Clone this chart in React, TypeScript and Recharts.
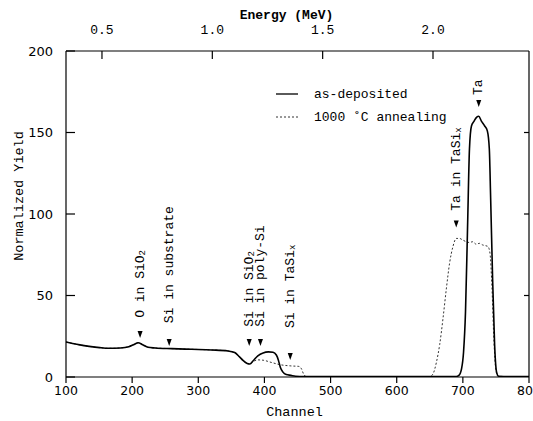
import React from 'react';
import { LineChart, Line, XAxis, YAxis, ReferenceDot } from 'recharts';

// As-deposited spectrum (solid)
const asDepChannel = [100, 110, 121, 135, 151, 165, 182, 195, 203, 209, 216, 224, 235, 260, 290, 320, 345, 355, 362, 368, 374, 378, 383, 390, 398, 406, 413, 418, 421, 424, 428, 433, 440, 447, 460, 550, 650, 690, 694, 698, 701, 704, 707, 710, 713, 717, 721, 724, 728, 733, 737, 740, 742, 745, 748, 751, 754, 770, 800];
const asDepYield = [21.5, 20.6, 19.7, 18.8, 18, 17.6, 17.8, 18.6, 20, 21, 19.8, 18.2, 17.8, 17.4, 17, 16.6, 16, 15, 12.5, 10, 8.3, 8, 10, 13, 14.8, 15.4, 15.2, 13.5, 10.5, 6, 3, 1.5, 1, 0.5, 0.2, 0.2, 0.2, 0.3, 1, 5, 15, 40, 90, 140, 154, 157, 159.5, 160, 157, 154, 151, 140, 110, 60, 20, 3, 0.5, 0.2, 0.2];

// 1000 °C annealing spectrum (dotted)
const annealChannel = [100, 110, 121, 135, 151, 165, 182, 195, 203, 209, 216, 224, 235, 260, 290, 320, 345, 355, 362, 368, 374, 378, 383, 390, 398, 410, 423, 440, 452, 456, 459, 463, 550, 640, 650, 655, 660, 665, 670, 675, 680, 685, 690, 695, 700, 705, 710, 715, 720, 725, 730, 735, 738, 741, 744, 747, 750, 753, 770, 800];
const annealYield = [21.5, 20.6, 19.7, 18.8, 18, 17.6, 17.8, 18.6, 20, 21, 19.8, 18.2, 17.8, 17.4, 17, 16.6, 16, 15, 12.5, 10, 8.3, 8.2, 9.5, 10.5, 10.3, 9, 7.6, 6.8, 6.5, 5, 2, 0.3, 0.2, 0.2, 0.3, 2, 9, 20, 36, 54, 70, 80, 85, 85, 84, 83, 82.5, 83, 81.5, 82, 81, 80.5, 80, 76, 55, 22, 4, 0.5, 0.2, 0.2];

const channelTicks = [100, 200, 300, 400, 500, 600, 700, 800];
const yieldTicks = [0, 50, 100, 150, 200];
const rightTicks = [50, 100, 150];
const energyTicks = [0.5, 1.0, 1.5, 2.0];
const energyDomain = [0.337, 2.435];

// Peak annotations
const annotationText = ['O in SiO', 'Si in substrate', 'Si in SiO', 'Si in poly-Si', 'Si in TaSi', 'Ta in TaSi', 'Ta'];
const annotationSub = ['2', '', '2', '', 'x', 'x', ''];
const annotationChannel = [212, 256, 377, 394, 439, 690, 724];
const annotationArrowYield = [24, 19, 19, 19, 10.5, 91.7, 165.6];
const annotationTextYield = [36.3, 33, 30.8, 30.8, 30, 102, 173];

const seriesNames = ['as-deposited', '1000 \u02daC annealing'];

const asDepData = asDepChannel.map((c, i) => ({ channel: c, y: asDepYield[i] }));
const annealData = annealChannel.map((c, i) => ({ channel: c, y: annealYield[i] }));
const energyData = energyDomain.map((e) => ({ energy: e, y: null }));

const MONO = '"Liberation Mono", "DejaVu Sans Mono", monospace';
const SANS = '"DejaVu Sans", sans-serif';

const LeftTick = (p: any) => (
  <g>
    <line x1={p.x} x2={p.x + 9} y1={p.y} y2={p.y} stroke="#000" strokeWidth={1.2} />
    <text x={p.x - 13} y={p.y} textAnchor="end" dominantBaseline="central" fontFamily={SANS} fontSize={13} fill="#000">
      {p.payload.value}
    </text>
  </g>
);

const TopTick = (p: any) => (
  <g>
    <line x1={p.x} x2={p.x} y1={p.y} y2={p.y + 8} stroke="#000" strokeWidth={1.2} />
    <text x={p.x} y={p.y - 17} textAnchor="middle" fontFamily={MONO} fontSize={13} fill="#000">
      {Number(p.payload.value).toFixed(1)}
    </text>
  </g>
);

const RightTick = (p: any) => (
  <line x1={p.x - 5} x2={p.x} y1={p.y} y2={p.y} stroke="#000" strokeWidth={1.2} />
);

const Arrow = (p: any) => (
  <path d={`M${p.cx - 2.5},${p.cy - 7} L${p.cx + 2.5},${p.cy - 7} L${p.cx},${p.cy} Z`} fill="#000" />
);

const makeLabel = (i: number) => (p: any) => (
  <text
    x={p.cx}
    y={p.cy}
    transform={`rotate(-90 ${p.cx} ${p.cy})`}
    textAnchor="start"
    dominantBaseline="central"
    fontFamily={MONO}
    fontSize={13}
    fill="#000"
  >
    {annotationText[i]}
    {annotationSub[i] ? (
      <tspan fontSize={9} dy={3}>{annotationSub[i]}</tspan>
    ) : null}
  </text>
);

export default function App() {
  return (
    <div style={{ position: 'absolute', left: 0, top: 0, width: 533, height: 421, background: '#fff' }}>
      <LineChart width={533} height={421} margin={{ top: 0, right: 0, bottom: 0, left: 0 }}>
        <XAxis
          xAxisId="bottom"
          type="number"
          dataKey="channel"
          domain={[100, 800]}
          ticks={channelTicks}
          interval={0}
          height={44}
          tickSize={6}
          tickMargin={3}
          stroke="#000"
          axisLine={{ stroke: '#000', strokeWidth: 1.2 }}
          tickLine={{ stroke: '#000', strokeWidth: 1.2 }}
          tick={{ fill: '#000', fontFamily: SANS, fontSize: 12.5 }}
          allowDataOverflow
          label={(p: any) => (
            <text x={p.viewBox.x + p.viewBox.width / 2 - 3} y={p.viewBox.y + 39} textAnchor="middle" fontFamily={MONO} fontSize={13.5} fill="#000">
              Channel
            </text>
          )}
        />
        <XAxis
          xAxisId="top"
          orientation="top"
          type="number"
          dataKey="energy"
          domain={energyDomain}
          ticks={energyTicks}
          interval={0}
          height={51}
          tickSize={0}
          tickMargin={0}
          tickLine={false}
          axisLine={{ stroke: '#000', strokeWidth: 1.2 }}
          tick={<TopTick />}
          allowDataOverflow
          label={(p: any) => (
            <text x={p.viewBox.x + p.viewBox.width / 2 - 11} y={19} textAnchor="middle" fontFamily={MONO} fontSize={13} fontWeight="bold" fill="#000">
              Energy (MeV)
            </text>
          )}
        />
        <YAxis
          yAxisId="left"
          type="number"
          domain={[0, 200]}
          ticks={yieldTicks}
          interval={0}
          width={66}
          tickSize={0}
          tickMargin={0}
          tickLine={false}
          axisLine={{ stroke: '#000', strokeWidth: 1.2 }}
          tick={<LeftTick />}
          allowDataOverflow
          label={(p: any) => (
            <text
              x={19}
              y={196}
              transform="rotate(-90 19 196)"
              textAnchor="middle"
              dominantBaseline="central"
              fontFamily={MONO}
              fontSize={13.5}
              fill="#000"
            >
              Normalized Yield
            </text>
          )}
        />
        <YAxis
          yAxisId="right"
          orientation="right"
          type="number"
          domain={[0, 200]}
          ticks={rightTicks}
          interval={0}
          width={4}
          tickSize={0}
          tickMargin={0}
          tickLine={false}
          axisLine={{ stroke: '#000', strokeWidth: 1.2 }}
          tick={<RightTick />}
          allowDataOverflow
        />
        <Line
          xAxisId="top"
          yAxisId="right"
          data={energyData}
          dataKey="y"
          stroke="none"
          dot={false}
          activeDot={false}
          legendType="none"
          isAnimationActive={false}
        />
        <Line
          xAxisId="bottom"
          yAxisId="left"
          data={annealData}
          dataKey="y"
          name={seriesNames[1]}
          type="monotone"
          stroke="#333"
          strokeWidth={1}
          strokeDasharray="2 2"
          dot={false}
          isAnimationActive={false}
        />
        <Line
          xAxisId="bottom"
          yAxisId="left"
          data={asDepData}
          dataKey="y"
          name={seriesNames[0]}
          type="monotone"
          stroke="#000"
          strokeWidth={1.6}
          dot={false}
          isAnimationActive={false}
        />
        {annotationText.map((t, i) => (
          <ReferenceDot
            key={'arrow' + i}
            xAxisId="bottom"
            yAxisId="left"
            x={annotationChannel[i]}
            y={annotationArrowYield[i]}
            r={3}
            ifOverflow="visible"
            shape={Arrow}
          />
        ))}
        {annotationText.map((t, i) => (
          <ReferenceDot
            key={'label' + i}
            xAxisId="bottom"
            yAxisId="left"
            x={annotationChannel[i]}
            y={annotationTextYield[i]}
            r={3}
            ifOverflow="visible"
            shape={makeLabel(i)}
          />
        ))}
      </LineChart>
      <div style={{ position: 'absolute', left: 276, top: 82.5, fontFamily: MONO, fontSize: 13, color: '#000', lineHeight: '23px' }}>
        <div style={{ display: 'flex', alignItems: 'center', height: 23 }}>
          <svg width={22} height={10} style={{ marginRight: 16 }}>
            <line x1={0} x2={22} y1={5} y2={5} stroke="#000" strokeWidth={1.3} />
          </svg>
          <span>{seriesNames[0]}</span>
        </div>
        <div style={{ display: 'flex', alignItems: 'center', height: 23 }}>
          <svg width={22} height={10} style={{ marginRight: 16 }}>
            <line x1={0} x2={22} y1={5} y2={5} stroke="#333" strokeWidth={1} strokeDasharray="2 2" />
          </svg>
          <span>{seriesNames[1]}</span>
        </div>
      </div>
    </div>
  );
}
